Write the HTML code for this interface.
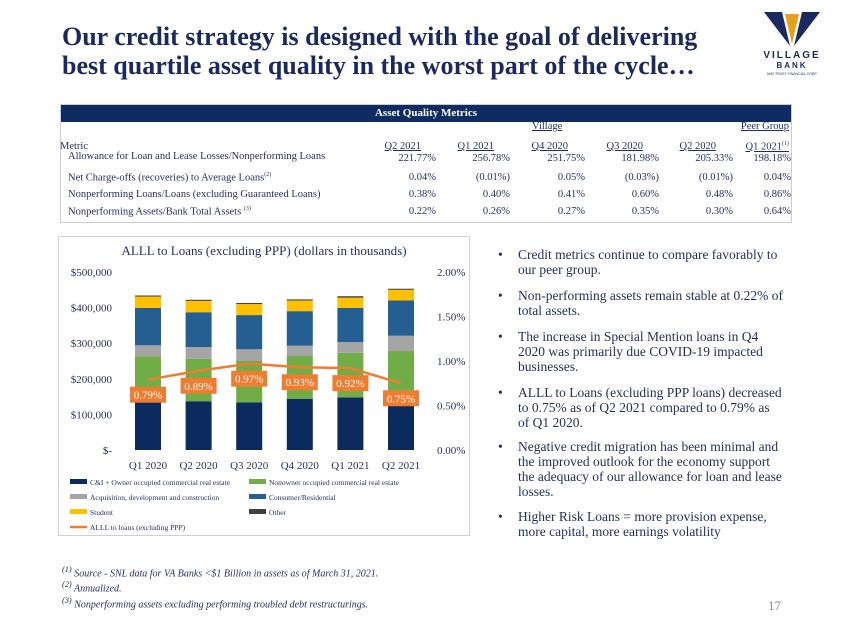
<!DOCTYPE html>
<html><head><meta charset="utf-8"><style>
*{margin:0;padding:0;box-sizing:border-box}
body{width:850px;height:636px;background:#fff;position:relative;overflow:hidden;font-family:"Liberation Serif",serif;color:#1F2D5C}
.abs{position:absolute}
#title{left:62px;top:22px;font-size:26px;font-weight:bold;line-height:29px;color:#1B2A5E;white-space:nowrap}
#tbl{left:60px;top:104px;width:732px;height:119px;border:1px solid #ccc}
#tbl .hdr{position:absolute;left:0;top:0;width:100%;height:17px;background:#0E2C62;color:#fff;font-weight:bold;font-size:11px;text-align:center;line-height:17px}
.t{position:absolute;font-size:10.5px;white-space:nowrap;color:#1F2D5C}
.u{text-decoration:underline}
#chartbox{left:58px;top:236px;width:412px;height:300px;border:1px solid #d0d0d0}
.bul{position:absolute;left:498px;font-size:13.5px;line-height:15px;color:#1F2D5C;width:300px;white-space:nowrap}
.bul span{position:absolute;left:0}
.bul div{margin-left:20px}
.fn{position:absolute;left:62px;font-size:10px;font-style:italic;color:#1F2D5C}
</style></head><body>
<div id="title" class="abs">Our credit strategy is designed with the goal of delivering<br>best quartile asset quality in the worst part of the cycle…</div>
<div class="abs" style="left:752px;top:10px;width:80px;height:70px">
<svg width="80" height="70" viewBox="0 0 80 70"><polygon points="12,2 30,2 38,36" fill="#1B2A5E"/><polygon points="50,2 68,2 42,36" fill="#1B2A5E"/><polygon points="33,4 47,4 40,34" fill="#E6A020"/>
<text x="40" y="48" font-size="10" font-weight="bold" text-anchor="middle" fill="#1B2A5E" font-family="Liberation Sans" letter-spacing="2">VILLAGE</text>
<text x="40" y="58" font-size="8" font-weight="bold" text-anchor="middle" fill="#1B2A5E" font-family="Liberation Sans" letter-spacing="2">BANK</text>
<text x="40" y="65" font-size="3.5" text-anchor="middle" fill="#1B2A5E" font-family="Liberation Sans">AND TRUST FINANCIAL CORP.</text></svg></div>

<div id="tbl" class="abs">
<div class="hdr">Asset Quality Metrics</div>
</div>
<div id="tcells"></div>

<div id="chartbox" class="abs"></div>
<svg id="chart" class="abs" style="left:0;top:0" width="850" height="636"></svg>

<div class="bul" style="top:247px"><span>•</span><div>Credit metrics continue to compare favorably to<br>our peer group.</div></div>
<div class="bul" style="top:288px"><span>•</span><div>Non-performing assets remain stable at 0.22% of<br>total assets.</div></div>
<div class="bul" style="top:329px"><span>•</span><div>The increase in Special Mention loans in Q4<br>2020 was primarily due COVID-19 impacted<br>businesses.</div></div>
<div class="bul" style="top:385px"><span>•</span><div>ALLL to Loans (excluding PPP loans) decreased<br>to 0.75% as of Q2 2021 compared to 0.79% as<br>of Q1 2020.</div></div>
<div class="bul" style="top:439px"><span>•</span><div>Negative credit migration has been minimal and<br>the improved outlook for the economy support<br>the adequacy of our allowance for loan and lease<br>losses.</div></div>
<div class="bul" style="top:509px"><span>•</span><div>Higher Risk Loans = more provision expense,<br>more capital, more earnings volatility</div></div>

<div class="fn" style="top:565px"><sup>(1)</sup> Source - SNL data for VA Banks &lt;$1 Billion in assets as of March 31, 2021.</div>
<div class="fn" style="top:580px"><sup>(2)</sup> Annualized.</div>
<div class="fn" style="top:596px"><sup>(3)</sup> Nonperforming assets excluding performing troubled debt restructurings.</div>
<div class="abs" style="left:768px;top:598px;font-size:13px;color:#888">17</div>

<script>
const tHead=["Q2 2021","Q1 2021","Q4 2020","Q3 2020","Q2 2020","Q1 2021"];
const tRows=["Allowance for Loan and Lease Losses/Nonperforming Loans","Net Charge-offs (recoveries) to Average Loans","Nonperforming Loans/Loans (excluding Guaranteed Loans)","Nonperforming Assets/Bank Total Assets"];
const tVals=[["221.77%","256.78%","251.75%","181.98%","205.33%","198.18%"],["0.04%","(0.01%)","0.05%","(0.03%)","(0.01%)","0.04%"],["0.38%","0.40%","0.41%","0.60%","0.48%","0.86%"],["0.22%","0.26%","0.27%","0.35%","0.30%","0.64%"]];
const hdrR=[421,494,568,643,716,789], valR=[436,510,585,659,733,791], rowY=[153,172,189,206];
const tc=document.getElementById('tcells');
function cell(txt,x,y,right,cls,name){const d=document.createElement('div');d.className='t '+(cls||'');d.innerHTML=txt;d.style.top=y+'px';
if(right){d.style.right=(850-x)+'px';}else d.style.left=x+'px';


tc.appendChild(d);}
cell('Village',532,121,false,'u','village-group-label');
cell('Peer Group',789,121,true,'u','peer-group-label');
cell('Metric',60,141,false,'','metric-column-header');
tHead.forEach((h,i)=>cell(h+(i==5?'<sup style="font-size:6px">(1)</sup>':''),hdrR[i],141,true,'u','column-header'));
tRows.forEach((r,j)=>{cell(r+(j==1?'<sup style="font-size:6px">(2)</sup>':'')+(j==3?' <sup style="font-size:6px">(3)</sup>':''),68,rowY[j]-(j==0?2:0),false,'','row-label');
tVals[j].forEach((v,i)=>cell(v,valR[i],rowY[j],true,'','table-value'));});

const categories=["Q1 2020","Q2 2020","Q3 2020","Q4 2020","Q1 2021","Q2 2021"];
const ciOwner=[135000,137000,134000,144000,148000,126000];
const nonOwner=[128000,119000,116000,120000,125000,152000];
const adc=[31000,33000,33000,29000,30000,43000];
const consumer=[105000,98000,96000,97000,96000,99000];
const student=[32000,32000,31000,30000,29000,30000];
const other=[3000,3000,3000,3000,4000,3000];
const alll=[0.79,0.89,0.97,0.93,0.92,0.75];
const leftTicks=[0,100000,200000,300000,400000,500000];
const leftTickLabels=["$-","$100,000","$200,000","$300,000","$400,000","$500,000"];
const rightTicks=[0,0.5,1,1.5,2];
const rightTickLabels=["0.00%","0.50%","1.00%","1.50%","2.00%"];

const NS="http://www.w3.org/2000/svg", svg=document.getElementById('chart');
const y0=450,y1=272,xs=148,step=50.6,bw=26;
const yL=v=>y0-(v/500000)*(y0-y1);
const yR=v=>y0-(v/2)*(y0-y1);
const xC=i=>xs+i*step;
function mk(tag,attrs,name,txt){const e=document.createElementNS(NS,tag);for(const k in attrs)e.setAttribute(k,attrs[k]);


if(txt!==undefined)e.textContent=txt;svg.appendChild(e);return e;}
mk('text',{x:264,y:255,'font-size':13,'text-anchor':'middle',fill:'#1F2D5C','font-family':'Liberation Serif'},'chart-title','ALLL to Loans (excluding PPP) (dollars in thousands)');
leftTicks.forEach((t,i)=>mk('text',{x:112,y:yL(t)+4,'font-size':11,'text-anchor':'end',fill:'#1F2D5C','font-family':'Liberation Serif'},'left-tick-label',leftTickLabels[i]));
rightTicks.forEach((t,i)=>mk('text',{x:437,y:yR(t)+4,'font-size':11,fill:'#1F2D5C','font-family':'Liberation Serif'},'right-tick-label',rightTickLabels[i]));
const series=[[ciOwner,'#0B2A5E','bar-ci-owner'],[nonOwner,'#70AD47','bar-nonowner'],[adc,'#A5A5A5','bar-adc'],[consumer,'#255E91','bar-consumer'],[student,'#FFC000','bar-student'],[other,'#404040','bar-other']];
categories.forEach((c,i)=>{let acc=0;series.forEach(([arr,col,nm])=>{const top=acc+arr[i];
mk('rect',{x:xC(i)-bw/2,y:yL(top),width:bw,height:yL(acc)-yL(top),fill:col},nm);acc=top;});
mk('text',{x:xC(i),y:469,'font-size':11,'text-anchor':'middle',fill:'#1F2D5C','font-family':'Liberation Serif'},'x-tick-label',c);});
mk('polyline',{points:alll.map((v,i)=>xC(i)+','+yR(v)).join(' '),fill:'none',stroke:'#ED7D31','stroke-width':2.5},'alll-line');
alll.forEach((v,i)=>{const cy=yR(v)+15;mk('rect',{x:xC(i)-18,y:cy-8,width:36,height:16,fill:'#ED7D31'},'alll-label-box');
mk('text',{x:xC(i),y:cy+4,'font-size':11,'text-anchor':'middle',fill:'#fff','font-family':'Liberation Serif'},'alll-label',v.toFixed(2)+'%');});
const leg=[['C&I + Owner occupied commercial real estate','#0B2A5E',90,483],['Nonowner occupied commercial real estate','#70AD47',269,483],['Acquisition, development and construction','#A5A5A5',90,498],['Consumer/Residential','#255E91',269,498],['Student','#FFC000',90,513],['Other','#404040',269,513]];
leg.forEach(([t,c,x,y])=>{mk('rect',{x:x-20,y:y-4,width:17,height:5,fill:c},'legend-swatch');
mk('text',{x:x,y:y+2,'font-size':7.5,fill:'#1F2D5C','font-family':'Liberation Serif'},'legend-entry',t);});
mk('line',{x1:70,y1:527,x2:87,y2:527,stroke:'#ED7D31','stroke-width':2.5},'legend-swatch-line');
mk('text',{x:90,y:530,'font-size':7.5,fill:'#1F2D5C','font-family':'Liberation Serif'},'legend-entry','ALLL to loans (excluding PPP)');
</script>
</body></html>
